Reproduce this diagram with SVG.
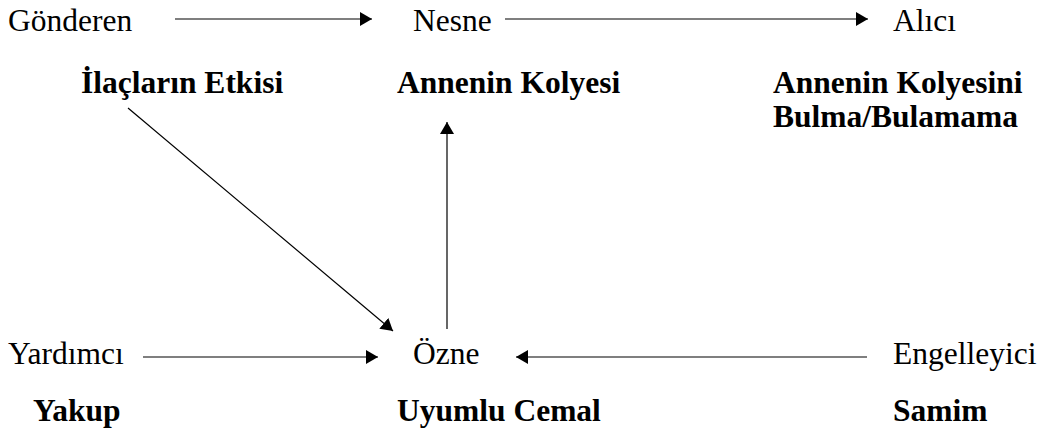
<svg xmlns="http://www.w3.org/2000/svg" width="1045" height="436" viewBox="0 0 1045 436">
  <style>
    text { font-family: 'Liberation Serif', 'DejaVu Serif', serif; font-size: 31.5px; fill: #000; }
    .name { font-weight: bold; }
    .link { stroke: #000; stroke-width: 1.2; fill: none; marker-end: url(#head); }
  </style>
  <defs>
    <marker id="head" markerUnits="userSpaceOnUse" viewBox="0 0 12 14" markerWidth="12" markerHeight="14" refX="12" refY="7" orient="auto">
      <path d="M0,0 L12,7 L0,14 Z" fill="#000"/>
    </marker>
  </defs>

  <g id="connectors">
    <line class="link" x1="175" y1="19" x2="372" y2="19"/>
    <line class="link" x1="505" y1="19" x2="868" y2="19"/>
    <line class="link" x1="128" y1="108" x2="393" y2="331"/>
    <line class="link" x1="447" y1="329" x2="447" y2="122"/>
    <line class="link" x1="143" y1="357" x2="378" y2="357"/>
    <line class="link" x1="867" y1="357" x2="516" y2="357"/>
  </g>

  <g id="gonderen">
    <text class="role" x="8" y="31" font-family="Liberation Serif, serif">Gönderen</text>
    <text class="name" x="81" y="93" font-family="Liberation Serif, serif">İlaçların Etkisi</text>
  </g>
  <g id="nesne">
    <text class="role" x="413" y="31">Nesne</text>
    <text class="name" x="397" y="93">Annenin Kolyesi</text>
  </g>
  <g id="alici">
    <text class="role" x="893" y="31">Alıcı</text>
    <text class="name" x="773" y="93">Annenin Kolyesini</text>
    <text class="name" x="773" y="127">Bulma/Bulamama</text>
  </g>
  <g id="yardimci">
    <text class="role" x="8" y="364">Yardımcı</text>
    <text class="name" x="33" y="421">Yakup</text>
  </g>
  <g id="ozne">
    <text class="role" x="413" y="364">Özne</text>
    <text class="name" x="397" y="421">Uyumlu Cemal</text>
  </g>
  <g id="engelleyici">
    <text class="role" x="893" y="364">Engelleyici</text>
    <text class="name" x="893" y="421">Samim</text>
  </g>
</svg>
